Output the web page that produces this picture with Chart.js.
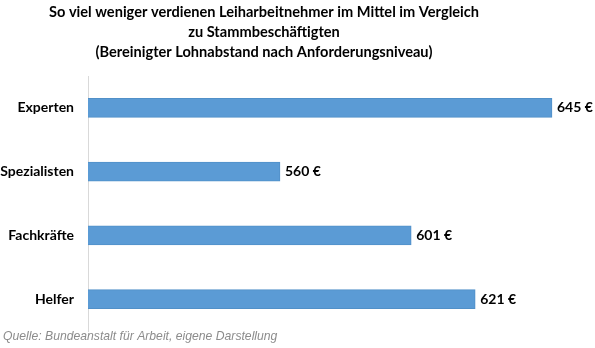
<!DOCTYPE html>
<html>
<head>
<meta charset="utf-8">
<script src="https://cdn.jsdelivr.net/npm/chart.js@4.4.1/dist/chart.umd.min.js"></script>
<style>
    html, body { margin: 0; padding: 0; background: #fff; }
    #wrap { width: 595px; height: 348px; }
</style>
</head>
<body>
<div id="wrap"><canvas id="chart"></canvas></div>
<script>
const categories = ['Experten', 'Spezialisten', 'Fachkräfte', 'Helfer'];
const lohnabstand = [645, 560, 601, 621];
const titleLines = [
    'So viel weniger verdienen Leiharbeitnehmer im Mittel im Vergleich',
    'zu Stammbeschäftigten',
    '(Bereinigter Lohnabstand nach Anforderungsniveau)'
];
const quelle = 'Quelle: Bundeanstalt für Arbeit, eigene Darstellung';

const boldFont = 'Lato, "Open Sans", sans-serif';

// title, source line and the value labels next to each bar
const textPlugin = {
    id: 'textPlugin',
    afterDatasetsDraw(chart) {
        const c = chart.ctx;
        c.save();
        c.fillStyle = '#000';
        c.font = 'bold 14.6px ' + boldFont;
        c.textAlign = 'center';
        c.textBaseline = 'middle';
        titleLines.forEach((line, i) => {
            c.fillText(line, 264, 12 + i * 20);
        });

        c.font = 'bold 14px ' + boldFont;
        c.textAlign = 'left';
        chart.getDatasetMeta(0).data.forEach((bar, i) => {
            c.fillText(lohnabstand[i] + ' €', bar.x + 5, bar.y);
        });

        c.font = 'italic 12.2px "Liberation Sans", Arial, sans-serif';
        c.fillStyle = '#8c8c8c';
        c.textBaseline = 'alphabetic';
        c.fillText(quelle, 3, 340);
        c.restore();
    }
};

const ctx = document.getElementById('chart').getContext('2d');

let chart = new Chart(ctx, {
    type: 'bar',
    data: {
        labels: categories,
        datasets: [{
            data: lohnabstand,
            backgroundColor: '#5b9bd5',
            borderColor: '#5190c8',
            borderWidth: 1,
            borderSkipped: false,
            barThickness: 19
        }]
    },
    options: {
        indexAxis: 'y',
        responsive: true,
        maintainAspectRatio: false,
        animation: false,
        layout: {
            padding: { top: 76, bottom: 17, left: 0, right: 27 }
        },
        plugins: {
            legend: { display: false },
            title: { display: false },
            tooltip: { enabled: false }
        },
        scales: {
            x: {
                display: false,
                min: 500,
                max: 650
            },
            y: {
                afterFit(scale) {
                    scale.width = 88;
                    // don't let the tick labels push the plot area in
                    scale.paddingTop = 0;
                    scale.paddingBottom = 0;
                },
                grid: { display: false, drawTicks: false },
                border: { display: true, color: '#d9d9d9', width: 1 },
                ticks: {
                    color: '#000',
                    padding: 14,
                    font: { family: boldFont, size: 14, weight: 'bold' }
                }
            }
        }
    },
    plugins: [textPlugin]
});
</script>
</body>
</html>
